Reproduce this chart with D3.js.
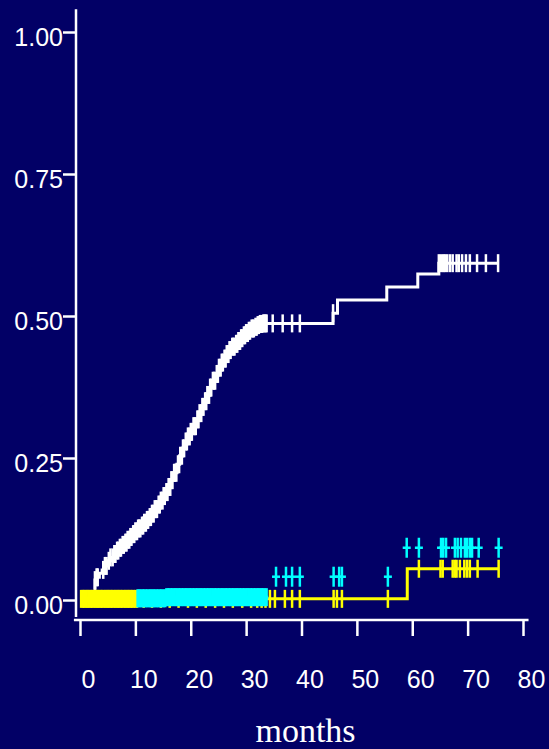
<!DOCTYPE html>
<head>
    <meta charset="utf-8">
    <script src="https://d3js.org/d3.v7.min.js"></script>
    <style>
        body { margin: 0; background: #020066; }
    </style>
</head>
<body>
    <svg></svg>
    <script>
        // curve data (months, cumulative probability)
        var whiteTime = [0, 2.7, 3.0, 3.5, 4.0, 4.5, 5.0, 5.5, 6.0, 6.5, 7.0, 7.5, 8.0, 8.5, 9.0, 9.5, 10.0, 10.5,
                         11.0, 11.5, 12.0, 12.5, 13.0, 13.5, 14.0, 14.5, 15.0, 15.5, 16.0, 16.5, 17.0, 17.5, 18.0,
                         18.5, 19.0, 19.5, 20.0, 20.5, 21.0, 21.5, 22.0, 22.5, 23.0, 23.5, 24.0, 24.5, 25.0, 25.5,
                         26.0, 26.5, 27.0, 27.5, 28.0, 28.5, 29.0, 29.5, 30.0, 30.5, 31.0, 31.5, 32.0, 32.5, 33.0,
                         45.7, 46.5, 55.4, 61.0, 64.8];
        var whiteCum  = [0, 0.035, 0.040, 0.047, 0.053, 0.060, 0.069, 0.075, 0.081, 0.087, 0.092, 0.097, 0.101,
                         0.106, 0.111, 0.116, 0.121, 0.126, 0.131, 0.136, 0.141, 0.146, 0.152, 0.160, 0.168, 0.175,
                         0.183, 0.190, 0.199, 0.211, 0.224, 0.239, 0.254, 0.267, 0.279, 0.288, 0.296, 0.306, 0.318,
                         0.329, 0.340, 0.350, 0.361, 0.374, 0.386, 0.398, 0.409, 0.418, 0.425, 0.433, 0.440, 0.446,
                         0.451, 0.456, 0.461, 0.466, 0.470, 0.474, 0.478, 0.481, 0.484, 0.486, 0.487,
                         0.505, 0.528, 0.551, 0.574, 0.593];
        var whiteEnd = 75.6;
        var whiteCensor = [2.7, 3.0, 3.2, 4.2, 4.5, 4.8, 5.2, 5.5, 5.9, 6.2, 6.4, 6.7, 6.9, 7.2, 7.4, 7.7, 7.9, 8.2,
                           8.4, 8.6, 8.9, 9.1, 9.3, 9.6, 9.8, 10.0, 10.3, 10.5, 10.7, 10.9, 11.2, 11.4, 11.6, 11.9,
                           12.1, 12.3, 12.6, 12.8, 13.0, 13.3, 13.5, 13.7, 13.9, 14.2, 14.4, 14.6, 14.9, 15.1, 15.3,
                           15.6, 15.8, 16.0, 16.3, 16.5, 16.7, 17.0, 17.2, 17.4, 17.7, 17.9, 18.1, 18.4, 18.6, 18.8,
                           19.1, 19.3, 19.5, 19.8, 20.0, 20.2, 20.5, 20.7, 20.9, 21.2, 21.4, 21.6, 21.9, 22.1, 22.3,
                           22.6, 22.8, 23.0, 23.3, 23.5, 23.7, 24.0, 24.2, 24.4, 24.7, 24.9, 25.1, 25.4, 25.6, 25.8,
                           26.1, 26.3, 26.5, 26.8, 27.0, 27.2, 27.5, 27.7, 27.9, 28.2, 28.4, 28.6, 28.9, 29.1, 29.3,
                           29.6, 29.8, 30.0, 30.3, 30.5, 30.7, 31.0, 31.2, 31.4, 31.7, 31.9, 32.1, 32.3, 32.5, 32.7,
                           32.9, 33.1, 33.3, 33.5, 33.7, 34.8, 36.6, 38.3, 39.7, 45.7, 64.8, 65.2, 65.6, 65.9, 66.3,
                           66.8, 67.3, 68.0, 68.4, 69.0, 69.7, 70.4, 71.7, 73.3, 75.5];

        var yellowTime = [0, 59.1];
        var yellowCum  = [0.002, 0.055];
        var yellowEnd = 75.6;
        var yellowCensor = [0.2, 0.5, 0.7, 1.0, 1.2, 1.5, 1.7, 2.0, 2.2, 2.5, 2.8, 3.0, 3.3, 3.5, 3.8, 4.0, 4.3,
                            4.6, 4.8, 5.1, 5.3, 5.6, 5.8, 6.1, 6.4, 6.6, 6.9, 7.1, 7.4, 7.6, 7.9, 8.2, 8.4, 8.7,
                            8.9, 9.2, 9.4, 9.7, 10.0, 10.3, 11.5, 13.0, 14.6, 16.2, 17.8, 19.5, 21.1, 22.7, 24.4,
                            26.0, 27.6, 29.3, 30.9, 32.0, 32.8, 33.5, 34.3, 35.2, 37.0, 38.3, 39.7, 45.8, 46.4,
                            47.3, 55.6, 61.2, 65.1, 65.5, 67.3, 67.7, 68.0, 68.6, 69.4, 69.9, 70.4, 71.8, 75.6];

        var cyanTime = [10.3, 15.5];
        var cyanCum  = [0.003, 0.005];
        var cyanEnd = 34.0;
        var cyanCensor = [10.4, 10.6, 10.9, 11.1, 11.4, 11.6, 11.9, 12.1, 12.4, 12.6, 12.9, 13.1, 13.4, 13.6, 13.9,
                          14.1, 14.4, 14.6, 14.9, 15.1, 15.4, 15.6, 15.9, 16.1, 16.4, 16.6, 16.9, 17.1, 17.4, 17.6,
                          17.9, 18.1, 18.4, 18.6, 18.9, 19.1, 19.4, 19.6, 19.9, 20.1, 20.4, 20.6, 20.9, 21.1, 21.4,
                          21.6, 21.9, 22.1, 22.4, 22.6, 22.9, 23.1, 23.4, 23.6, 23.9, 24.1, 24.4, 24.6, 24.9, 25.1,
                          25.4, 25.6, 25.9, 26.1, 26.4, 26.6, 26.9, 27.1, 27.4, 27.6, 27.9, 28.1, 28.4, 28.6, 28.9,
                          29.1, 29.4, 29.6, 29.9, 30.1, 30.4, 30.6, 30.9, 31.1, 31.4, 31.6, 31.9, 32.1, 32.4, 32.6,
                          32.9, 33.1, 33.4, 33.7];
        var cyanPlusTime = [35.4, 37.2, 38.3, 39.7, 45.8, 46.8, 47.3, 55.6,
                            59.0, 61.2, 65.2, 65.6, 66.1, 67.7, 68.2, 68.8, 69.5, 69.9, 70.4, 70.8, 72.0, 75.6];
        var cyanPlusCum  = [0.041, 0.041, 0.041, 0.041, 0.041, 0.041, 0.041, 0.041,
                            0.092, 0.092, 0.092, 0.092, 0.092, 0.092, 0.092, 0.092, 0.092, 0.092, 0.092, 0.092, 0.092, 0.092];

        var yTicks = [0, 0.25, 0.5, 0.75, 1];
        var xTicks = [0, 10, 20, 30, 40, 50, 60, 70, 80];

        var width = 549, height = 749;

        var x = d3.scaleLinear().domain([0, 80]).range([80, 523]);
        var y = d3.scaleLinear().domain([0, 1]).range([600, 32]);

        var svg = d3.select("svg")
            .attr("width", width)
            .attr("height", height)
            .style("display", "block")
            .style("background", "#020066");

        // axes
        var yAxis = svg.append("g")
            .attr("transform", "translate(76,0)")
            .call(d3.axisLeft(y).tickValues(yTicks).tickFormat(d3.format(".2f"))
                .tickSize(13).tickPadding(0));
        yAxis.select(".domain").remove();
        yAxis.append("line")
            .attr("y1", y(1.04)).attr("y2", y(-0.03))
            .attr("stroke", "white").attr("stroke-width", 2.5);
        yAxis.selectAll(".tick line").attr("stroke", "white").attr("stroke-width", 2.5);
        yAxis.selectAll(".tick text")
            .attr("fill", "white")
            .attr("dy", "0.52em")
            .style("font-family", "Liberation Sans, Arial, sans-serif")
            .style("font-size", "25px");

        var xAxis = svg.append("g")
            .attr("transform", "translate(0,620)")
            .call(d3.axisBottom(x).tickValues(xTicks).tickFormat(d3.format("d")).tickSize(16));
        xAxis.select(".domain").remove();
        xAxis.append("line")
            .attr("x1", x(-1.1)).attr("x2", x(81))
            .attr("stroke", "white").attr("stroke-width", 2.5);
        xAxis.selectAll(".tick line").attr("stroke", "white").attr("stroke-width", 2.5);
        xAxis.selectAll(".tick text")
            .attr("fill", "white")
            .attr("x", 8)
            .attr("y", 59)
            .attr("dy", "0.35em")
            .style("font-family", "Liberation Sans, Arial, sans-serif")
            .style("font-size", "25px");

        svg.append("text")
            .attr("x", (x(0) + x(80)) / 2 + 4)
            .attr("y", 742)
            .attr("text-anchor", "middle")
            .attr("fill", "white")
            .style("font-family", "Liberation Serif, Times New Roman, serif")
            .style("font-size", "34px")
            .text("months");

        var line = d3.line()
            .x(function (d) { return x(d[0]); })
            .y(function (d) { return y(d[1]); })
            .curve(d3.curveStepAfter);

        // step value at time t
        function stepAt(times, cums, t) {
            var i = d3.bisectRight(times, t) - 1;
            return cums[Math.max(i, 0)];
        }

        function drawCurve(times, cums, end, censor, color) {
            var pts = times.map(function (t, i) { return [t, cums[i]]; });
            pts.push([end, cums[cums.length - 1]]);
            var g = svg.append("g");
            g.append("path")
                .attr("d", line(pts))
                .attr("fill", "none")
                .attr("stroke", color)
                .attr("stroke-width", 3);
            g.selectAll("line")
                .data(censor)
                .enter().append("line")
                .attr("x1", function (d) { return x(d); })
                .attr("x2", function (d) { return x(d); })
                .attr("y1", function (d) { return y(stepAt(times, cums, d)) - 9; })
                .attr("y2", function (d) { return y(stepAt(times, cums, d)) + 9; })
                .attr("stroke", color)
                .attr("stroke-width", 2.5);
        }

        drawCurve(whiteTime, whiteCum, whiteEnd, whiteCensor, "white");
        drawCurve(yellowTime, yellowCum, yellowEnd, yellowCensor, "#ffff00");
        drawCurve(cyanTime, cyanCum, cyanEnd, cyanCensor, "#00ffff");

        // cyan plus marks above the yellow curve
        var plus = svg.append("g").selectAll("g")
            .data(cyanPlusTime.map(function (t, i) { return [t, cyanPlusCum[i]]; }))
            .enter().append("g")
            .attr("transform", function (d) { return "translate(" + x(d[0]) + "," + y(d[1]) + ")"; });
        plus.append("line")
            .attr("y1", -10).attr("y2", 10)
            .attr("stroke", "#00ffff").attr("stroke-width", 2.5);
        plus.append("line")
            .attr("x1", -4).attr("x2", 4)
            .attr("stroke", "#00ffff").attr("stroke-width", 2.5);
    </script>
</body>
